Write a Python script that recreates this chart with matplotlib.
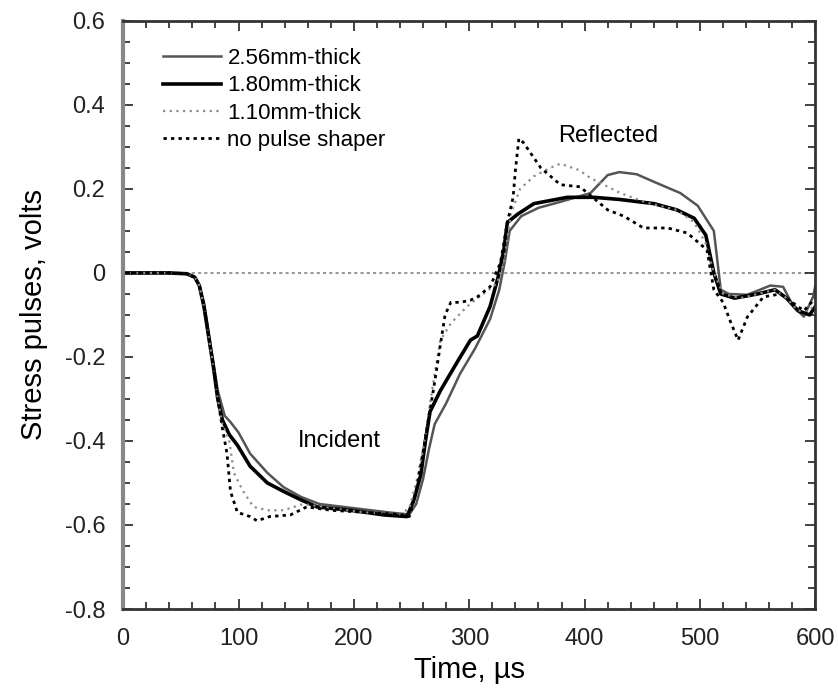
import matplotlib
matplotlib.use("Agg")
import matplotlib.pyplot as plt
from matplotlib.ticker import MultipleLocator, FuncFormatter

plt.rcParams['font.family'] = ['Liberation Sans', 'DejaVu Sans']

# 1.80mm-thick
t_180 = [0, 40, 55, 62, 66, 70, 74, 78, 82, 86, 92, 99, 110, 125, 139, 154, 168, 197, 226, 246,
         252, 258, 262, 266, 275, 290, 301, 307, 318, 325, 330, 333, 342, 356, 385, 408, 430, 460,
         480, 495, 505, 512, 518, 530, 550, 565, 575, 585, 595, 600]
v_180 = [0, 0, -0.002, -0.01, -0.03, -0.08, -0.15, -0.22, -0.30, -0.35, -0.385, -0.41, -0.46, -0.50,
         -0.52, -0.54, -0.557, -0.565, -0.576, -0.58, -0.54, -0.48, -0.40, -0.33, -0.28, -0.21,
         -0.16, -0.15, -0.08, -0.01, 0.055, 0.12, 0.14, 0.165, 0.18, 0.18, 0.175, 0.165, 0.15, 0.13,
         0.09, 0.0, -0.05, -0.06, -0.05, -0.04, -0.06, -0.09, -0.10, -0.08]

# 2.56mm-thick
t_256 = [0, 40, 55, 62, 66, 70, 74, 78, 82, 88, 93, 100, 110, 125, 139, 154, 170, 200, 230, 248,
         254, 260, 265, 270, 280, 292, 305, 318, 326, 331, 335, 345, 360, 380, 405, 420, 430, 445,
         460, 483, 498, 512, 518, 525, 541, 561, 572, 581, 590, 598, 600]
v_256 = [0, 0, -0.002, -0.01, -0.03, -0.07, -0.14, -0.21, -0.28, -0.34, -0.355, -0.38, -0.43,
         -0.476, -0.51, -0.533, -0.55, -0.56, -0.57, -0.575, -0.55, -0.49, -0.42, -0.36, -0.31,
         -0.24, -0.18, -0.11, -0.04, 0.03, 0.10, 0.135, 0.155, 0.17, 0.19, 0.233, 0.24, 0.235,
         0.217, 0.19, 0.16, 0.10, -0.04, -0.05, -0.052, -0.03, -0.033, -0.08, -0.104, -0.057, -0.03]

# 1.10mm-thick
t_110 = [0, 40, 55, 62, 66, 70, 74, 78, 82, 86, 92, 96, 104, 113, 125, 139, 156, 180, 210, 240,
         248, 254, 260, 265, 270, 275, 284, 298, 312, 324, 330, 334, 336, 344, 356, 370, 379, 395,
         405, 431, 454, 480, 495, 505, 512, 520, 535, 550, 565, 575, 585, 595, 600]
v_110 = [0, 0, -0.002, -0.01, -0.03, -0.08, -0.15, -0.22, -0.30, -0.36, -0.40, -0.476, -0.52,
         -0.557, -0.565, -0.565, -0.55, -0.56, -0.57, -0.575, -0.56, -0.50, -0.42, -0.33, -0.24,
         -0.16, -0.12, -0.08, -0.05, -0.025, 0.024, 0.10, 0.14, 0.20, 0.23, 0.25, 0.26, 0.245,
         0.226, 0.19, 0.167, 0.15, 0.12, 0.07, 0.0, -0.05, -0.06, -0.05, -0.04, -0.06, -0.09,
         -0.09, -0.07]

# no pulse shaper
t_none = [0, 40, 55, 62, 66, 70, 74, 78, 82, 86, 90, 93, 99, 110, 116, 127, 145, 159, 180, 210,
          240, 248, 254, 259, 264, 270, 275, 279, 284, 292, 301, 307, 318, 327, 333, 338, 340, 343,
          347, 362, 379, 396, 420, 434, 451, 472, 489, 506, 512, 520, 527, 533, 541, 555, 570, 580,
          590, 600]
v_none = [0, 0, -0.002, -0.01, -0.03, -0.08, -0.15, -0.22, -0.30, -0.37, -0.43, -0.52, -0.57,
          -0.58, -0.59, -0.58, -0.576, -0.557, -0.565, -0.57, -0.575, -0.58, -0.52, -0.44, -0.36,
          -0.26, -0.17, -0.10, -0.07, -0.07, -0.065, -0.057, -0.033, 0.024, 0.12, 0.18, 0.245,
          0.32, 0.31, 0.25, 0.21, 0.205, 0.15, 0.135, 0.107, 0.107, 0.095, 0.055, -0.04, -0.07,
          -0.12, -0.16, -0.105, -0.057, -0.05, -0.07, -0.09, -0.06]

fig = plt.figure(figsize=(8.38, 6.96), dpi=100)
ax = fig.add_axes([0.147, 0.125, 0.826, 0.845])

ax.axhline(0, color="#999999", lw=1.5, ls=(0, (1.5, 1.5)), zorder=1)
ax.plot(t_256, v_256, color="#555555", lw=1.8, label="2.56mm-thick")
ax.plot(t_180, v_180, color="black", lw=2.6, label="1.80mm-thick")
ax.plot(t_110, v_110, color="#8c8c8c", lw=1.6, ls=(0, (1, 2)), label="1.10mm-thick")
ax.plot(t_none, v_none, color="black", lw=2.0, ls=(0, (1.2, 1.5)), label="no pulse shaper")

ax.text(187, -0.40, "Incident", fontsize=17, ha="center", va="center")
ax.text(420, 0.325, "Reflected", fontsize=17, ha="center", va="center")

ax.set_xlim(0, 600)
ax.set_ylim(-0.8, 0.6)
ax.xaxis.set_major_locator(MultipleLocator(100))
ax.xaxis.set_minor_locator(MultipleLocator(20))
ax.yaxis.set_major_locator(MultipleLocator(0.2))
ax.yaxis.set_minor_locator(MultipleLocator(0.05))
ax.yaxis.set_major_formatter(FuncFormatter(lambda v, p: "0" if abs(v) < 1e-9 else "{:g}".format(round(v, 1))))
ax.tick_params(which="both", direction="in", top=True, right=True, labelsize=17, colors="#222222")
ax.tick_params(axis="y", which="major", length=7, width=1.2, pad=13)
ax.tick_params(axis="x", which="major", length=7, width=1.2, pad=14)
ax.tick_params(which="minor", length=5, width=1.2)
for s in ["top", "right", "bottom"]:
    ax.spines[s].set_color("#333333")
    ax.spines[s].set_linewidth(2)
ax.spines["left"].set_color("#888888")
ax.spines["left"].set_linewidth(3)

ax.set_xlabel("Time, \u00b5s", fontsize=21, labelpad=4)
ax.set_ylabel("Stress pulses, volts", fontsize=21, labelpad=12)

ax.legend(loc="upper left", bbox_to_anchor=(0.035, 0.98), frameon=False, fontsize=16,
          handlelength=2.6, handletextpad=0.3, labelspacing=0.28, borderpad=0.2)

fig.savefig("out.png", dpi=100)
